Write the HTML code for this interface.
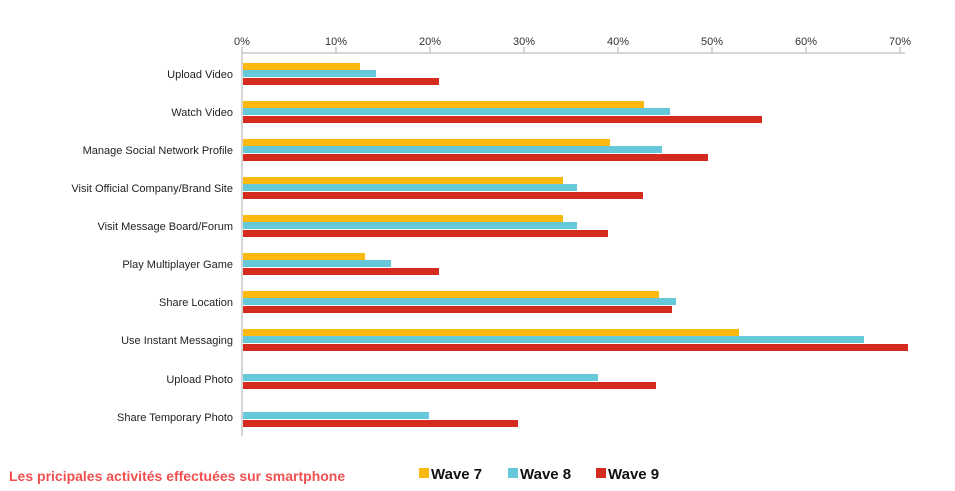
<!DOCTYPE html>
<html><head><meta charset="utf-8"><style>body{margin:0;background:#fff}svg{display:block}</style></head><body>
<svg width="955" height="491" xmlns="http://www.w3.org/2000/svg" font-family="Liberation Sans, sans-serif">
<g stroke="#c8c8c8" stroke-width="1.5">
<line x1="242" y1="53" x2="905" y2="53"/>
<line x1="242" y1="47" x2="242" y2="436"/>
<line x1="336" y1="47" x2="336" y2="53"/><line x1="430" y1="47" x2="430" y2="53"/>
<line x1="524" y1="47" x2="524" y2="53"/><line x1="618" y1="47" x2="618" y2="53"/>
<line x1="712" y1="47" x2="712" y2="53"/><line x1="806" y1="47" x2="806" y2="53"/>
<line x1="900" y1="47" x2="900" y2="53"/>
</g>
<g font-size="11" fill="#333" text-anchor="middle">
<text x="242" y="45">0%</text><text x="336" y="45">10%</text><text x="430" y="45">20%</text><text x="524" y="45">30%</text><text x="618" y="45">40%</text><text x="712" y="45">50%</text><text x="806" y="45">60%</text><text x="900" y="45">70%</text>
</g>
<g font-size="11" fill="#222" text-anchor="end">
<text x="233" y="78">Upload Video</text>
<text x="233" y="116">Watch Video</text>
<text x="233" y="154">Manage Social Network Profile</text>
<text x="233" y="192">Visit Official Company/Brand Site</text>
<text x="233" y="230">Visit Message Board/Forum</text>
<text x="233" y="268">Play Multiplayer Game</text>
<text x="233" y="306">Share Location</text>
<text x="233" y="344">Use Instant Messaging</text>
<text x="233" y="383">Upload Photo</text>
<text x="233" y="421">Share Temporary Photo</text>
</g>
<g fill="#fbb80f">
<rect x="243" y="63" width="117" height="7"/>
<rect x="243" y="101" width="401" height="7"/>
<rect x="243" y="139" width="367" height="7"/>
<rect x="243" y="177" width="320" height="7"/>
<rect x="243" y="215" width="320" height="7"/>
<rect x="243" y="253" width="122" height="7"/>
<rect x="243" y="291" width="416" height="7"/>
<rect x="243" y="329" width="496" height="7"/>
</g>
<g fill="#66c8d8">
<rect x="243" y="70" width="133" height="7"/>
<rect x="243" y="108" width="427" height="7"/>
<rect x="243" y="146" width="419" height="7"/>
<rect x="243" y="184" width="334" height="7"/>
<rect x="243" y="222" width="334" height="7"/>
<rect x="243" y="260" width="148" height="7"/>
<rect x="243" y="298" width="433" height="7"/>
<rect x="243" y="336" width="621" height="7"/>
<rect x="243" y="374" width="355" height="7"/>
<rect x="243" y="412" width="186" height="7"/>
</g>
<g fill="#d52b1e">
<rect x="243" y="78" width="196" height="7"/>
<rect x="243" y="116" width="519" height="7"/>
<rect x="243" y="154" width="465" height="7"/>
<rect x="243" y="192" width="400" height="7"/>
<rect x="243" y="230" width="365" height="7"/>
<rect x="243" y="268" width="196" height="7"/>
<rect x="243" y="306" width="429" height="7"/>
<rect x="243" y="344" width="665" height="7"/>
<rect x="243" y="382" width="413" height="7"/>
<rect x="243" y="420" width="275" height="7"/>
</g>
<text x="9" y="481" font-size="14" font-weight="bold" fill="#f05050">Les pricipales activités effectuées sur smartphone</text>
<g font-size="15" font-weight="bold" fill="#111">
<rect x="419" y="468" width="10" height="10" fill="#fbb80f"/><text x="431" y="479">Wave 7</text>
<rect x="508" y="468" width="10" height="10" fill="#66c8d8"/><text x="520" y="479">Wave 8</text>
<rect x="596" y="468" width="10" height="10" fill="#d52b1e"/><text x="608" y="479">Wave 9</text>
</g>
</svg>
</body></html>
